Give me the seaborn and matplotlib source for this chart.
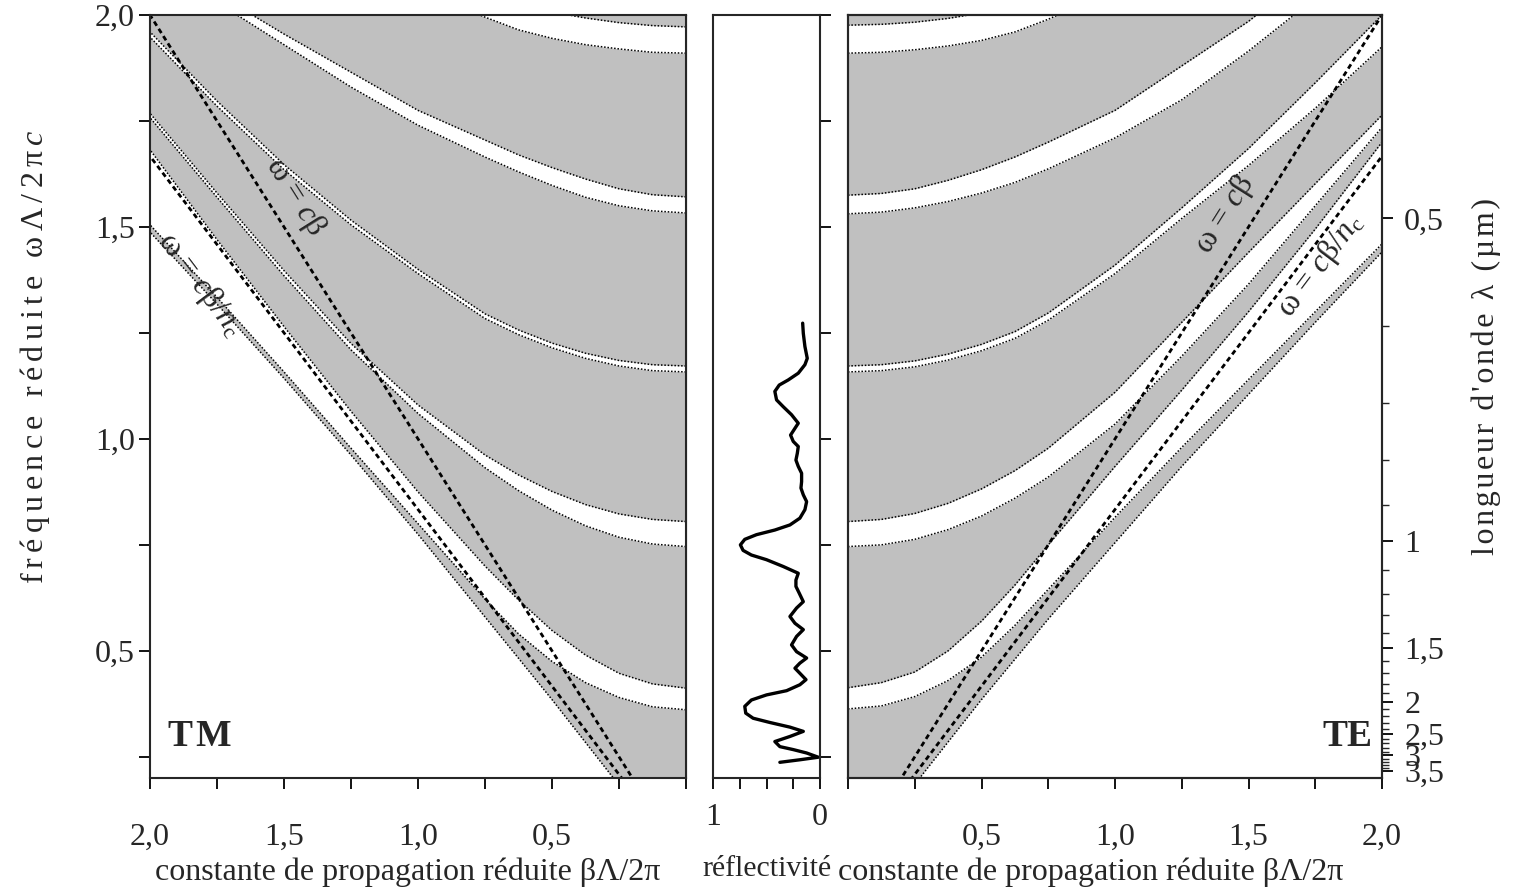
import numpy as np
import pandas as pd
import seaborn as sns
import matplotlib.pyplot as plt
from matplotlib.ticker import FixedLocator, MultipleLocator, NullFormatter

sns.set_style("ticks")
plt.rcParams['font.family'] = ['Liberation Serif', 'DejaVu Serif']
plt.rcParams['mathtext.fontset'] = 'custom'
plt.rcParams['mathtext.rm'] = 'Liberation Serif'
plt.rcParams['mathtext.it'] = 'Liberation Serif:italic'

# ---- values (reduced units) ----
beta_grid = [0.0, 0.125, 0.25, 0.375, 0.5, 0.625, 0.75, 1.0, 1.25, 1.5, 1.75, 2.0]

# lower limit of the allowed region (nothing below)
floor_beta = [0.25, 0.5, 0.75, 1.0, 1.25, 1.5, 1.75, 2.0]
te_floor_f = [0.185, 0.385, 0.575, 0.755, 0.935, 1.105, 1.275, 1.441]
tm_floor_f = [0.183, 0.385, 0.580, 0.775, 0.962, 1.143, 1.318, 1.488]

# TE band gaps: (lower edge, upper edge) on beta_grid
te_g1 = ([0.363, 0.370, 0.392, 0.430, 0.485, 0.560, 0.645, 0.815, 0.980, 1.140, 1.300, 1.460],
         [0.413, 0.425, 0.450, 0.500, 0.570, 0.655, 0.750, 0.935, 1.115, 1.300, 1.495, 1.700])
te_g2 = ([0.746, 0.750, 0.763, 0.786, 0.818, 0.860, 0.910, 1.035, 1.195, 1.365, 1.550, 1.735],
         [0.805, 0.810, 0.824, 0.848, 0.882, 0.925, 0.978, 1.110, 1.275, 1.440, 1.602, 1.764])
te_g3 = ([1.158, 1.161, 1.170, 1.186, 1.208, 1.237, 1.280, 1.390, 1.520, 1.645, 1.780, 1.925],
         [1.172, 1.175, 1.184, 1.200, 1.223, 1.253, 1.297, 1.410, 1.545, 1.685, 1.840, 2.000])
te_g4 = ([1.531, 1.535, 1.545, 1.560, 1.580, 1.605, 1.637, 1.710, 1.800, 1.915, 2.040, 2.170],
         [1.575, 1.579, 1.590, 1.610, 1.635, 1.665, 1.700, 1.775, 1.880, 1.985, 2.110, 2.240])
te_g5 = ([1.910, 1.912, 1.918, 1.927, 1.940, 1.960, 1.990, 2.060, 2.150, 2.250, 2.350, 2.450],
         [1.976, 1.978, 1.983, 1.992, 2.005, 2.025, 2.050, 2.120, 2.200, 2.300, 2.400, 2.500])

# TM band gaps
tm_g1 = ([0.361, 0.368, 0.390, 0.425, 0.475, 0.540, 0.622, 0.800, 0.978, 1.158, 1.334, 1.505],
         [0.412, 0.422, 0.447, 0.490, 0.548, 0.620, 0.700, 0.875, 1.065, 1.265, 1.470, 1.682])
tm_g2 = ([0.746, 0.752, 0.768, 0.795, 0.832, 0.878, 0.932, 1.060, 1.210, 1.385, 1.570, 1.758],
         [0.805, 0.810, 0.823, 0.845, 0.876, 0.915, 0.962, 1.080, 1.225, 1.397, 1.580, 1.768])
tm_g3 = ([1.158, 1.161, 1.172, 1.190, 1.215, 1.246, 1.284, 1.390, 1.505, 1.635, 1.785, 1.948],
         [1.172, 1.175, 1.185, 1.202, 1.226, 1.257, 1.295, 1.400, 1.516, 1.647, 1.797, 1.960])
tm_g4 = ([1.533, 1.538, 1.550, 1.570, 1.598, 1.630, 1.665, 1.740, 1.830, 1.930, 2.030, 2.130],
         [1.571, 1.576, 1.590, 1.613, 1.640, 1.670, 1.705, 1.775, 1.865, 1.955, 2.050, 2.150])
tm_g5 = ([1.910, 1.912, 1.920, 1.930, 1.945, 1.965, 1.995, 2.060, 2.150, 2.250, 2.350, 2.450],
         [1.972, 1.975, 1.982, 1.993, 2.007, 2.025, 2.050, 2.120, 2.200, 2.300, 2.400, 2.500])

# light lines: vacuum and cladding
light_beta = [0.0, 2.0]
light_f = [0.0, 2.0]
clad_beta = [0.0, 2.0]
clad_f = [0.0, 1.667]

# reflectivity at normal incidence (frequency, reflectivity)
refl_f = [1.273, 1.249, 1.218, 1.190, 1.175, 1.155, 1.139, 1.127, 1.112, 1.092,
          1.076, 1.057, 1.037, 1.025, 1.009, 0.994, 0.982, 0.966, 0.950, 0.935,
          0.919, 0.899, 0.884, 0.868, 0.852, 0.833, 0.813, 0.797, 0.785, 0.774,
          0.763, 0.750, 0.737, 0.726, 0.715, 0.699, 0.683, 0.667, 0.652, 0.636,
          0.616, 0.601, 0.581, 0.565, 0.550, 0.534, 0.514, 0.498, 0.483, 0.471,
          0.459, 0.447, 0.432, 0.420, 0.406, 0.396, 0.384, 0.369, 0.353, 0.341,
          0.331, 0.320, 0.310, 0.298, 0.286, 0.274, 0.267, 0.259, 0.249, 0.243,
          0.237]
refl_r = [0.162, 0.156, 0.141, 0.119, 0.141, 0.203, 0.297, 0.381, 0.422, 0.406,
          0.344, 0.266, 0.203, 0.234, 0.275, 0.250, 0.203, 0.212, 0.225, 0.203,
          0.172, 0.172, 0.178, 0.156, 0.125, 0.141, 0.188, 0.281, 0.422, 0.594,
          0.703, 0.744, 0.719, 0.641, 0.500, 0.344, 0.203, 0.225, 0.225, 0.194,
          0.156, 0.219, 0.281, 0.234, 0.156, 0.219, 0.266, 0.219, 0.125, 0.188,
          0.234, 0.188, 0.131, 0.188, 0.312, 0.500, 0.641, 0.703, 0.694, 0.625,
          0.469, 0.281, 0.156, 0.281, 0.422, 0.375, 0.250, 0.125, 0.016, 0.188,
          0.375]

# wavelength axis (period in micrometres)
period_um = 0.76
wl_major = [0.5, 1.0, 1.5, 2.0, 2.5, 3.0, 3.5]
wl_labels = ['0,5', '1', '1,5', '2', '2,5', '3', '3,5']
wl_minor = [0.6, 0.7, 0.8, 0.9, 1.1, 1.2, 1.3, 1.4, 1.6, 1.7, 1.8, 1.9,
            2.1, 2.2, 2.3, 2.4, 2.6, 2.7, 2.8, 2.9, 3.1, 3.2, 3.3, 3.4]

GRAY = '#c0c0c0'
FMIN, FMAX = 0.2, 2.0
FS = 23


def spaced(s, sp):
    return sp.join(s)


fig = plt.figure(figsize=(15.14, 8.96), dpi=100)
bot, hgt = 1 - 778 / 896, (778 - 15) / 896
ax_tm = fig.add_axes([150 / 1514, bot, 536 / 1514, hgt])
ax_r = fig.add_axes([713 / 1514, bot, 107 / 1514, hgt])
ax_te = fig.add_axes([848 / 1514, bot, 534 / 1514, hgt])

dot = dict(color='black', lw=1.1, linestyle=(0, (1, 1.2)))
dash = dict(color='black', lw=2.0, linestyle=(0, (1.8, 1.3)))


def draw_bands(ax, floor_f, gaps):
    ax.fill_between([0, 2], [-1, -1], [3, 3], color=GRAY, lw=0, zorder=1)
    for lo, hi in gaps:
        ax.fill_between(beta_grid, lo, hi, color='white', lw=0, zorder=2)
        ax.plot(beta_grid, lo, zorder=3, **dot)
        ax.plot(beta_grid, hi, zorder=3, **dot)
    ax.fill_between(floor_beta, -1, floor_f, color='white', lw=0, zorder=2)
    ax.plot(floor_beta, floor_f, zorder=3, **dot)
    sns.lineplot(x=light_beta, y=light_f, ax=ax, zorder=4, sort=False,
                 estimator=None, **dash)
    sns.lineplot(x=clad_beta, y=clad_f, ax=ax, zorder=4, sort=False,
                 estimator=None, **dash)
    ax.set_ylim(FMIN, FMAX)


draw_bands(ax_tm, tm_floor_f, [tm_g1, tm_g2, tm_g3, tm_g4, tm_g5])
draw_bands(ax_te, te_floor_f, [te_g1, te_g2, te_g3, te_g4, te_g5])
ax_tm.set_xlim(2.0, 0.0)
ax_te.set_xlim(0.0, 2.0)

sns.lineplot(x=refl_r, y=refl_f, ax=ax_r, color='black', lw=2.4,
             sort=False, estimator=None, solid_joinstyle='round')
ax_r.set_xlim(1.0, 0.0)
ax_r.set_ylim(FMIN, FMAX)

tick_kw = dict(labelsize=FS, length=8, width=1.3, color='black')
for ax in (ax_tm, ax_r, ax_te):
    for s in ax.spines.values():
        s.set_linewidth(1.5)
        s.set_zorder(10)

quarter = np.arange(0.0, 2.01, 0.25)

# TM axes
ax_tm.set_xticks([2.0, 1.5, 1.0, 0.5])
ax_tm.set_xticklabels(['2,0', '1,5', '1,0', '0,5'])
ax_tm.xaxis.set_minor_locator(MultipleLocator(0.25))
ax_tm.set_yticks([0.5, 1.0, 1.5, 2.0])
ax_tm.set_yticklabels(['0,5', '1,0', '1,5', '2,0'])
ax_tm.yaxis.set_minor_locator(MultipleLocator(0.25))
ax_tm.tick_params(axis='both', which='both', direction='out', **tick_kw)
ax_tm.tick_params(axis='x', which='major', pad=24)
ax_tm.tick_params(axis='y', which='major', pad=3)
ax_tm.set_xlabel('constante de propagation réduite βΛ/2π', fontsize=FS)
ax_tm.xaxis.set_label_coords(0.481, -0.104)
ax_tm.set_ylabel(spaced('fréquence réduite ωΛ/2π', '\u2006') + '\u2006$c$',
                 fontsize=FS)
ax_tm.yaxis.set_label_coords(-0.183, 0.552)
tm_top = ax_tm.secondary_xaxis('top')
tm_top.set_xticks(quarter)
tm_top.tick_params(direction='in', length=8, width=1.3, labeltop=False)
tm_right = ax_tm.secondary_yaxis('right')
tm_right.set_yticks(quarter)
tm_right.tick_params(direction='in', length=6, width=1.1, labelright=False)

# reflectivity axes
ax_r.set_xticks([1, 0])
ax_r.set_xticklabels(['1', '0'])
ax_r.xaxis.set_minor_locator(MultipleLocator(0.25))
ax_r.yaxis.tick_right()
ax_r.set_yticks(quarter[1:])
ax_r.yaxis.set_major_formatter(NullFormatter())
ax_r.tick_params(axis='both', which='both', direction='out', **tick_kw)
ax_r.tick_params(axis='x', which='major', pad=10)
ax_r.set_xlabel('réflectivité', fontsize=21.5)
ax_r.xaxis.set_label_coords(0.5, -0.102)

# TE axes
ax_te.set_xticks([0.5, 1.0, 1.5, 2.0])
ax_te.set_xticklabels(['0,5', '1,0', '1,5', '2,0'])
ax_te.xaxis.set_minor_locator(MultipleLocator(0.25))
ax_te.set_yticks([])
ax_te.tick_params(axis='x', which='both', direction='out', **tick_kw)
ax_te.tick_params(axis='x', which='major', pad=24)
ax_te.set_xlabel('constante de propagation réduite βΛ/2π', fontsize=FS)
ax_te.xaxis.set_label_coords(0.455, -0.104)
te_top = ax_te.secondary_xaxis('top')
te_top.set_xticks(quarter)
te_top.tick_params(direction='in', length=8, width=1.3, labeltop=False)

ax_wl = ax_te.twinx()
ax_wl.set_ylim(FMIN, FMAX)
ax_wl.yaxis.set_major_locator(FixedLocator([period_um / w for w in wl_major]))
ax_wl.set_yticklabels(wl_labels)
ax_wl.yaxis.set_minor_locator(FixedLocator([period_um / w for w in wl_minor]))
ax_wl.tick_params(axis='y', which='major', direction='out', pad=8, **tick_kw)
ax_wl.tick_params(axis='y', which='minor', direction='out', length=5, width=1.0)
ax_wl.set_ylabel(spaced("longueur d'onde λ (µm)", '\u200a'), fontsize=FS)
ax_wl.yaxis.set_label_coords(1.168, 0.526)
for s in ax_wl.spines.values():
    s.set_linewidth(1.5)

# annotations
ax_tm.text(0.093, 0.054, 'T\u200aM', transform=ax_tm.transAxes, fontsize=27,
           fontweight='bold', ha='center', va='center', zorder=6)
ax_te.text(0.935, 0.054, 'TE', transform=ax_te.transAxes, fontsize=27,
           fontweight='bold', ha='center', va='center', zorder=6)
ax_tm.text(1.459, 1.571, 'ω = $c$β', fontsize=23, rotation=-57.8,
           ha='center', va='center', zorder=6)
ax_tm.text(1.813, 1.363, 'ω = $c$β/$n$$_{\\rm c}$', fontsize=23, rotation=-53,
           ha='center', va='center', zorder=6)
ax_te.text(1.412, 1.528, 'ω = $c$β', fontsize=23, rotation=57.8,
           ha='center', va='center', zorder=6)
ax_te.text(1.768, 1.41, 'ω = $c$β/$n$$_{\\rm c}$', fontsize=23, rotation=53,
           ha='center', va='center', zorder=6)

fig.savefig('out.png', dpi=100)
